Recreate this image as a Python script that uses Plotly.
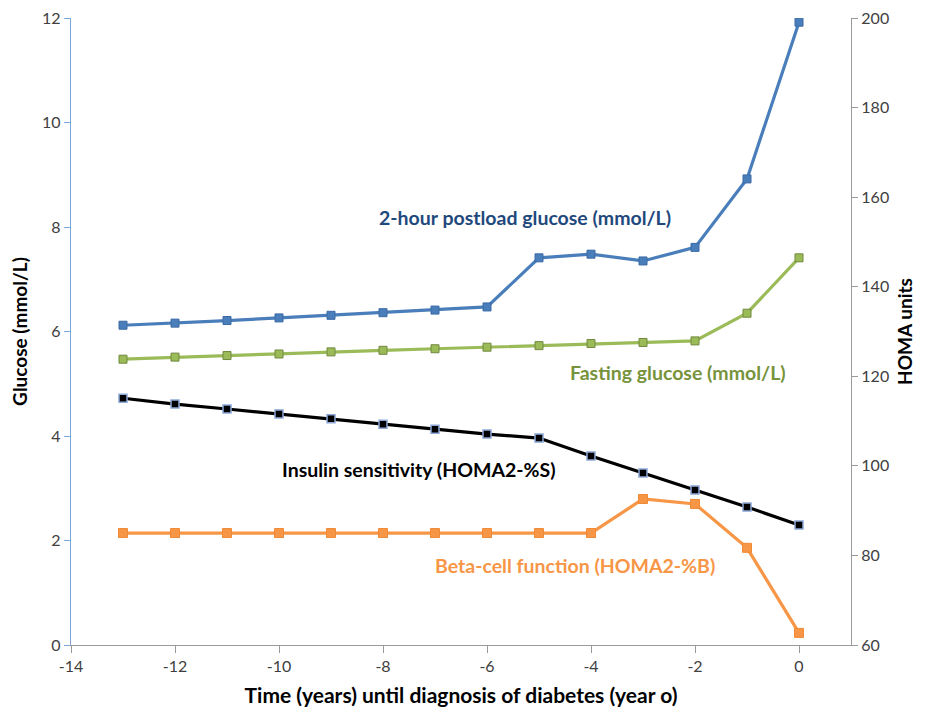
import plotly.graph_objects as go

years = [-13, -12, -11, -10, -9, -8, -7, -6, -5, -4, -3, -2, -1, 0]
postload_glucose = [6.12, 6.16, 6.21, 6.26, 6.31, 6.36, 6.41, 6.47, 7.41, 7.48, 7.35, 7.61, 8.92, 11.92]
fasting_glucose = [5.47, 5.51, 5.54, 5.57, 5.61, 5.64, 5.67, 5.70, 5.73, 5.77, 5.79, 5.82, 6.35, 7.41]
insulin_sensitivity = [115.1, 113.8, 112.7, 111.6, 110.5, 109.3, 108.2, 107.1, 106.2, 102.2, 98.4, 94.6, 90.8, 86.8]
beta_cell = [85.0, 85.0, 85.0, 85.0, 85.0, 85.0, 85.0, 85.0, 85.0, 85.0, 92.6, 91.5, 81.7, 62.7]

x_ticks = [-14, -12, -10, -8, -6, -4, -2, 0]
x_tick_labels = ["-14", "-12", "-10", "-8", "-6", "-4", "-2", "0"]
left_ticks = [0, 2, 4, 6, 8, 10, 12]
right_ticks = [60, 80, 100, 120, 140, 160, 180, 200]

FONT = "Lato"

fig = go.Figure()
fig.add_trace(go.Scatter(
    x=years, y=postload_glucose, mode="lines+markers", yaxis="y",
    line=dict(color="#4A7EBB", width=3.2),
    marker=dict(symbol="square", size=8, color="#4A7EBB", line=dict(color="#3A6AA5", width=1)),
    name="2-hour postload glucose"))
fig.add_trace(go.Scatter(
    x=years, y=fasting_glucose, mode="lines+markers", yaxis="y",
    line=dict(color="#9BBB59", width=3.2),
    marker=dict(symbol="square", size=8, color="#9BBB59", line=dict(color="#71893F", width=1)),
    name="Fasting glucose"))
fig.add_trace(go.Scatter(
    x=years, y=insulin_sensitivity, mode="lines+markers", yaxis="y2",
    line=dict(color="#000000", width=3.2),
    marker=dict(symbol="square", size=8, color="#000000", line=dict(color="#8EA9D8", width=1.5)),
    name="Insulin sensitivity"))
fig.add_trace(go.Scatter(
    x=years, y=beta_cell, mode="lines+markers", yaxis="y2",
    line=dict(color="#F79646", width=3.2),
    marker=dict(symbol="square", size=9, color="#F79646", line=dict(color="#F08A35", width=1)),
    name="Beta-cell function"))

ann_font = dict(family=FONT, size=19.5, weight="bold")
fig.add_annotation(x=-5.27, y=8.19, xref="x", yref="y", text="2-hour postload glucose (mmol/L)",
                   showarrow=False, font=dict(ann_font, color="#1F497D"))
fig.add_annotation(x=-2.32, y=5.22, xref="x", yref="y", text="Fasting glucose (mmol/L)",
                   showarrow=False, font=dict(ann_font, color="#77933C"))
fig.add_annotation(x=-7.31, y=3.35, xref="x", yref="y", text="Insulin sensitivity (HOMA2-%S)",
                   showarrow=False, font=dict(ann_font, color="#000000"))
fig.add_annotation(x=-4.30, y=1.53, xref="x", yref="y", text="Beta-cell function (HOMA2-%B)",
                   showarrow=False, font=dict(ann_font, color="#F79646"))

fig.update_layout(
    width=924, height=709,
    margin=dict(l=63, r=81, t=10, b=72, autoexpand=False),
    paper_bgcolor="white", plot_bgcolor="white",
    showlegend=False,
    font=dict(family=FONT, size=16, color="#404040"),
    xaxis=dict(range=[-14, 1], tickvals=x_ticks, ticktext=x_tick_labels, showgrid=False, zeroline=False,
               showline=True, linecolor="#9A9A9A", linewidth=1.3, ticklabeloverflow="allow",
               ticks="outside", ticklen=7, tickcolor="#9A9A9A",
               title=dict(text="<b>Time (years) until diagnosis of diabetes (year o)</b>",
                          font=dict(family=FONT, size=21, color="#000000"), standoff=13)),
    yaxis=dict(range=[0, 12], tickvals=left_ticks, showgrid=False, zeroline=False,
               showline=True, linecolor="#7BA7D8", linewidth=1.3, ticklabeloverflow="allow",
               ticks="outside", ticklen=6, tickcolor="#7BA7D8",
               title=dict(text="<b>Glucose (mmol/L)</b>",
                          font=dict(family=FONT, size=19, color="#000000"), standoff=12)),
    yaxis2=dict(range=[60, 200], tickvals=right_ticks, overlaying="y", side="right",
                showgrid=False, zeroline=False, ticklabeloverflow="allow",
                showline=True, linecolor="#9A9A9A", linewidth=1.3,
                ticks="outside", ticklen=6, tickcolor="#9A9A9A",
                title=dict(text="<b>HOMA units</b>",
                           font=dict(family=FONT, size=19, color="#000000"), standoff=10)),
)

fig.write_html("out.html")
